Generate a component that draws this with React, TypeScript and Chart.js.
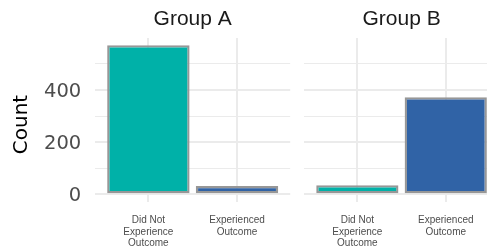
import React, { useEffect, useRef } from 'react';
import { Chart, registerables } from 'chart.js';

Chart.register(...registerables);

const groups = ['Group A', 'Group B'];
const categories: string[][] = [['Did Not', 'Experience', 'Outcome'], ['Experienced', 'Outcome']];
const categoryPositions = [0, 1];
const groupAValues = [572, 32];
const groupBValues = [35, 372];
const yTickLabels = [0, 200, 400];
const yGridValues = [0, 100, 200, 300, 400, 500];
const barColors = ['#00B1A8', '#3063A6'];

const FONT = '"Liberation Sans", Arial, Helvetica, sans-serif';
const AXIS_FONT = '"DejaVu Sans", "Liberation Sans", sans-serif';

function makePlugin(title: string, showYTitle: boolean) {
  return {
    id: 'panelTitle',
    afterDraw(chart: any) {
      const { ctx, chartArea } = chart;
      ctx.save();
      ctx.font = `21px ${FONT}`;
      ctx.fillStyle = '#1A1A1A';
      ctx.textAlign = 'center';
      ctx.textBaseline = 'alphabetic';
      ctx.fillText(title, (chartArea.left + chartArea.right) / 2, 25);
      if (showYTitle) {
        ctx.translate(21.5, 124.5);
        ctx.rotate(-Math.PI / 2);
        ctx.textBaseline = 'middle';
        ctx.fillStyle = '#000000';
        ctx.font = `20px ${AXIS_FONT}`;
        ctx.fillText('Count', 0, 0);
      }
      ctx.restore();
    },
  };
}

function buildConfig(values: number[], title: string, first: boolean, padRight: number): any {
  return {
    type: 'bar',
    data: {
      datasets: [
        {
          data: values.map((v, i) => ({ x: categoryPositions[i], y: v })),
          backgroundColor: barColors,
          borderColor: '#979797',
          borderWidth: 2.3,
          borderSkipped: false,
          barPercentage: 0.93,
          categoryPercentage: 1,
        },
      ],
    },
    options: {
      responsive: false,
      animation: false,
      events: [],
      layout: { padding: { top: 38.1, right: padRight, left: 0, bottom: 0 } },
      plugins: { legend: { display: false }, tooltip: { enabled: false }, title: { display: false } },
      scales: {
        x: {
          type: 'linear',
          offset: false,
          min: -0.6,
          max: 1.6,
          afterBuildTicks: (scale: any) => {
            scale.ticks = categoryPositions.map((v) => ({ value: v }));
          },
          afterFit: (scale: any) => {
            scale.height = 48.3;
          },
          grid: { color: '#EBEBEB', lineWidth: 2, drawTicks: false, offset: false },
          border: { display: false },
          ticks: {
            autoSkip: false,
            maxRotation: 0,
            minRotation: 0,
            padding: 13,
            color: '#4D4D4D',
            font: { family: FONT, size: 10, lineHeight: 1.15 },
            callback: (v: number) => categories[v] ?? '',
          },
        },
        y: {
          type: 'linear',
          min: -28.5,
          max: 599,
          afterBuildTicks: (scale: any) => {
            scale.ticks = yGridValues.map((v) => ({ value: v }));
          },
          afterFit: (scale: any) => {
            scale.width = first ? 95.2 : 7.3;
          },
          grid: {
            color: '#EBEBEB',
            lineWidth: (ctx: any) => (yTickLabels.includes(ctx.tick?.value) ? 2 : 1),
            drawTicks: false,
          },
          border: { display: false },
          ticks: {
            display: first,
            autoSkip: false,
            padding: 14,
            labelOffset: 2,
            color: '#4D4D4D',
            font: { family: AXIS_FONT, size: 19.5 },
            callback: (v: number) => (yTickLabels.includes(v) ? String(v) : ''),
          },
        },
      },
    },
    plugins: [makePlugin(title, first)],
  };
}

export default function App() {
  const refA = useRef<HTMLCanvasElement>(null);
  const refB = useRef<HTMLCanvasElement>(null);

  useEffect(() => {
    document.body.style.margin = '0';
    const a = new Chart(refA.current!, buildConfig(groupAValues, groups[0], true, 6.8));
    const b = new Chart(refB.current!, buildConfig(groupBValues, groups[1], false, 8.2));
    return () => {
      a.destroy();
      b.destroy();
    };
  }, []);

  return (
    <div style={{ position: 'relative', width: 487, height: 250, overflow: 'hidden', background: '#FFFFFF' }}>
      <canvas ref={refA} width={297} height={250} style={{ position: 'absolute', left: 0, top: 0, display: 'block' }} />
      <canvas ref={refB} width={210} height={250} style={{ position: 'absolute', left: 297, top: 0, display: 'block' }} />
    </div>
  );
}
